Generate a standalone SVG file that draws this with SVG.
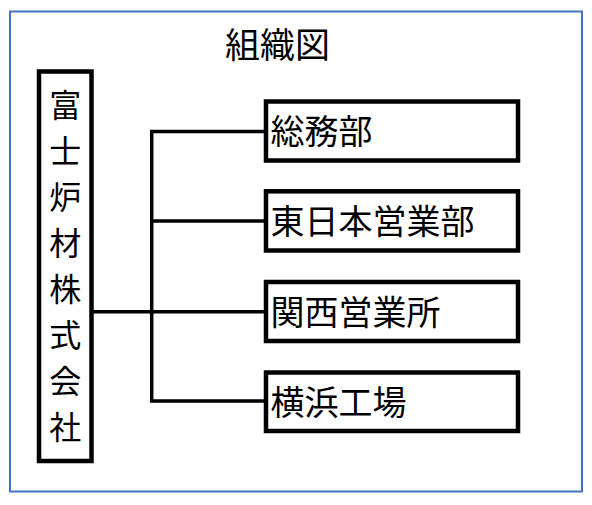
<svg xmlns="http://www.w3.org/2000/svg" width="592" height="505" viewBox="0 0 592 505">
<style>
.box{fill:#fff;stroke:#000;stroke-width:4.5}
.t{font-family:"Noto Sans CJK JP","Noto Sans CJK SC",sans-serif;fill:#000}
.lbl{font-size:34px}
.v{font-size:32px;text-anchor:middle}
.conn{fill:none;stroke:#000;stroke-width:3.5}
</style>
<rect x="0" y="0" width="592" height="505" fill="#fff"/>
<rect id="frame" x="10" y="11.5" width="572" height="480" fill="none" stroke="#4472C4" stroke-width="2"/>
<text id="title" class="t" x="277.5" y="57.5" font-size="35" text-anchor="middle">組織図</text>
<g id="connectors">
<path class="conn" d="M91.5 311.7H151.7"/>
<path class="conn" d="M266 131.5H151.7V401H266"/>
<path class="conn" d="M151.7 221H266"/>
<path class="conn" d="M151.7 311.7H266"/>
</g>
<g id="company">
<rect class="box" x="39" y="71.5" width="52.5" height="389.5"/>
<text class="t v" x="65.3" y="117">富</text>
<text class="t v" x="65.3" y="163">士</text>
<text class="t v" x="65.3" y="209">炉</text>
<text class="t v" x="65.3" y="255">材</text>
<text class="t v" x="65.3" y="301">株</text>
<text class="t v" x="65.3" y="347">式</text>
<text class="t v" x="65.3" y="393">会</text>
<text class="t v" x="65.3" y="439">社</text>
</g>
<g id="soumu">
<rect class="box" x="266" y="101.5" width="252" height="59"/>
<text class="t lbl" x="270.5" y="144">総務部</text>
</g>
<g id="higashinihon">
<rect class="box" x="266" y="191.3" width="252" height="59.2"/>
<text class="t lbl" x="270.5" y="234">東日本営業部</text>
</g>
<g id="kansai">
<rect class="box" x="266" y="282" width="252" height="59"/>
<text class="t lbl" x="270.5" y="324.5">関西営業所</text>
</g>
<g id="yokohama">
<rect class="box" x="266" y="372.5" width="252" height="58.5"/>
<text class="t lbl" x="270.5" y="415">横浜工場</text>
</g>
</svg>
